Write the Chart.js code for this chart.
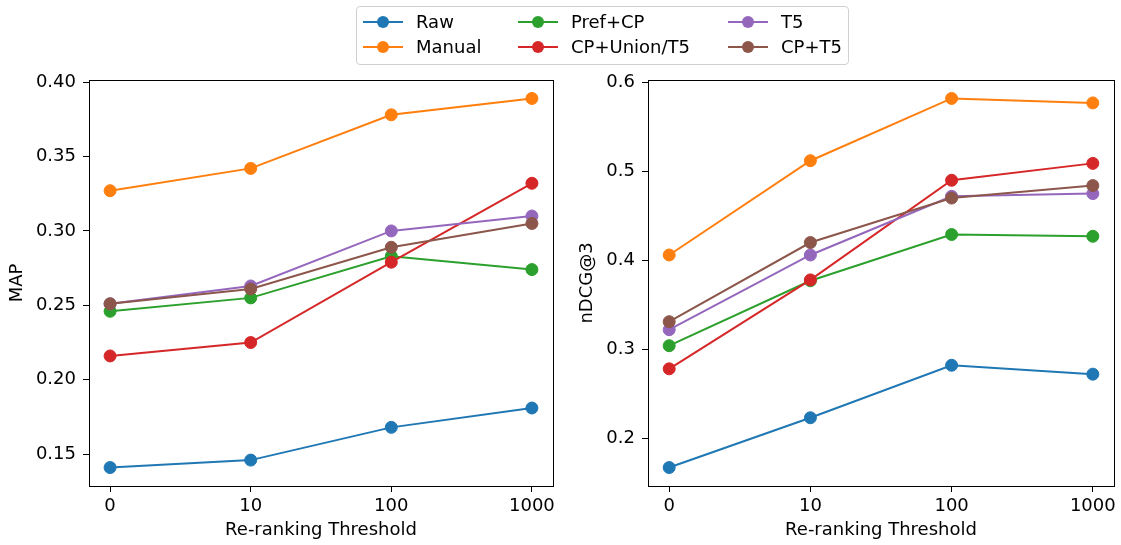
<!DOCTYPE html>
<html>
<head>
<meta charset="utf-8">
<script src="https://cdn.jsdelivr.net/npm/chart.js@4.4.1/dist/chart.umd.min.js"></script>
<style>
    body { margin: 0; background: #fff; font-family: "DejaVu Sans", sans-serif; }
    #wrap { position: relative; width: 1121px; height: 545px; overflow: hidden; }
    #wrap canvas { position: absolute; top: 0; }
    #legend {
        position: absolute; left: 356px; top: 6px; width: 491px; height: 57px;
        border: 1px solid #d0d0d0; border-radius: 4px; background: rgba(255,255,255,0.8); z-index: 2;
    }
    .item { position: absolute; height: 20px; font-size: 18px; color: #000; white-space: nowrap; }
    .item .line { position: absolute; left: 0; top: 9px; width: 40px; height: 2px; }
    .item .dot { position: absolute; left: 14px; top: 4px; width: 12px; height: 12px; border-radius: 50%; }
    .item span { position: absolute; left: 53px; top: 0; line-height: 20px; }
</style>
</head>
<body>
<div id="wrap">
    <canvas id="mapChart" width="560" height="545" style="left:0;width:560px;height:545px"></canvas>
    <canvas id="ndcgChart" width="561" height="545" style="left:560px;width:561px;height:545px"></canvas>
    <div id="legend"></div>
</div>
<script>
// --- data ---
const thresholds = ['0', '10', '100', '1000'];
const seriesNames = ['Raw', 'Manual', 'Pref+CP', 'CP+Union/T5', 'T5', 'CP+T5'];
const seriesColors = ['#1f77b4', '#ff7f0e', '#2ca02c', '#d62728', '#9467bd', '#8c564b'];

const mapRaw      = [0.141, 0.146, 0.168, 0.181];
const mapManual   = [0.327, 0.342, 0.378, 0.389];
const mapPrefCP   = [0.246, 0.255, 0.283, 0.274];
const mapCPUnion  = [0.216, 0.225, 0.279, 0.332];
const mapT5       = [0.251, 0.263, 0.300, 0.310];
const mapCPT5     = [0.251, 0.261, 0.289, 0.305];

const ndcgRaw     = [0.167, 0.223, 0.282, 0.272];
const ndcgManual  = [0.406, 0.512, 0.582, 0.577];
const ndcgPrefCP  = [0.304, 0.377, 0.429, 0.427];
const ndcgCPUnion = [0.278, 0.378, 0.490, 0.509];
const ndcgT5      = [0.322, 0.406, 0.472, 0.475];
const ndcgCPT5    = [0.331, 0.420, 0.470, 0.484];

const mapTicks  = [0.15, 0.20, 0.25, 0.30, 0.35, 0.40];
const ndcgTicks = [0.2, 0.3, 0.4, 0.5, 0.6];

const FONT = { family: '"DejaVu Sans", sans-serif', size: 18 };

// axes frame like matplotlib spines
const framePlugin = {
    id: 'frame',
    afterDatasetsDraw(chart) {
        const { ctx, chartArea: a } = chart;
        ctx.save();
        ctx.strokeStyle = '#000';
        ctx.lineWidth = 1;
        ctx.strokeRect(Math.round(a.left) + 0.5, Math.round(a.top) + 0.5,
            Math.round(a.right - a.left), Math.round(a.bottom - a.top));
        ctx.restore();
    }
};

function makeChart(id, values, ticks, decimals, title, yWidth, rightPad, titlePad) {
    const all = values.flat();
    const lo = Math.min(...all), hi = Math.max(...all);
    const m = (hi - lo) * 0.05;

    return new Chart(document.getElementById(id), {
        type: 'line',
        data: {
            datasets: values.map((vals, i) => ({
                label: seriesNames[i],
                data: vals.map((v, j) => ({ x: j, y: v })),
                borderColor: seriesColors[i],
                backgroundColor: seriesColors[i],
                borderWidth: 2,
                pointRadius: 6,
                pointBorderWidth: 1,
                pointHoverRadius: 6,
                order: values.length - i,
                clip: false
            }))
        },
        options: {
            responsive: false,
            animation: false,
            events: [],
            layout: { padding: { top: 80, right: rightPad, left: 0, bottom: 0 } },
            plugins: { legend: { display: false }, tooltip: { enabled: false } },
            scales: {
                x: {
                    type: 'linear',
                    min: -0.15,
                    max: 3.15,
                    afterBuildTicks: s => { s.ticks = thresholds.map((_, i) => ({ value: i })); },
                    afterFit: s => { s.height = 59; },
                    ticks: { color: '#000', font: FONT, padding: 4, maxRotation: 0,
                             callback: v => thresholds[v] },
                    grid: { drawOnChartArea: false, drawTicks: true, tickLength: 6, color: '#000' },
                    border: { display: false },
                    title: { display: true, text: 'Re-ranking Threshold', color: '#000', font: FONT,
                             padding: { top: 0, bottom: 4 } }
                },
                y: {
                    min: lo - m,
                    max: hi + m,
                    afterBuildTicks: s => { s.ticks = ticks.map(v => ({ value: v })); },
                    afterFit: s => { s.width = yWidth; },
                    ticks: { color: '#000', font: FONT, padding: 7,
                             callback: v => v.toFixed(decimals) },
                    grid: { drawOnChartArea: false, drawTicks: true, tickLength: 6, color: '#000' },
                    border: { display: false },
                    title: { display: true, text: title, color: '#000', font: FONT,
                             padding: { top: titlePad, bottom: 0 } }
                }
            }
        },
        plugins: [framePlugin]
    });
}

makeChart('mapChart',
    [mapRaw, mapManual, mapPrefCP, mapCPUnion, mapT5, mapCPT5],
    mapTicks, 2, 'MAP', 89, 5, 7);
makeChart('ndcgChart',
    [ndcgRaw, ndcgManual, ndcgPrefCP, ndcgCPUnion, ndcgT5, ndcgCPT5],
    ndcgTicks, 1, 'nDCG@3', 88, 7, 17);

// shared legend, three columns of two
const legend = document.getElementById('legend');
const colLeft = [6, 161, 371];
const rowTop = [5, 30];
seriesNames.forEach((name, i) => {
    const el = document.createElement('div');
    el.className = 'item';
    el.style.left = colLeft[Math.floor(i / 2)] + 'px';
    el.style.top = rowTop[i % 2] + 'px';
    el.innerHTML = `<div class="line" style="background:${seriesColors[i]}"></div>
        <div class="dot" style="background:${seriesColors[i]}"></div><span>${name}</span>`;
    legend.appendChild(el);
});
</script>
</body>
</html>
